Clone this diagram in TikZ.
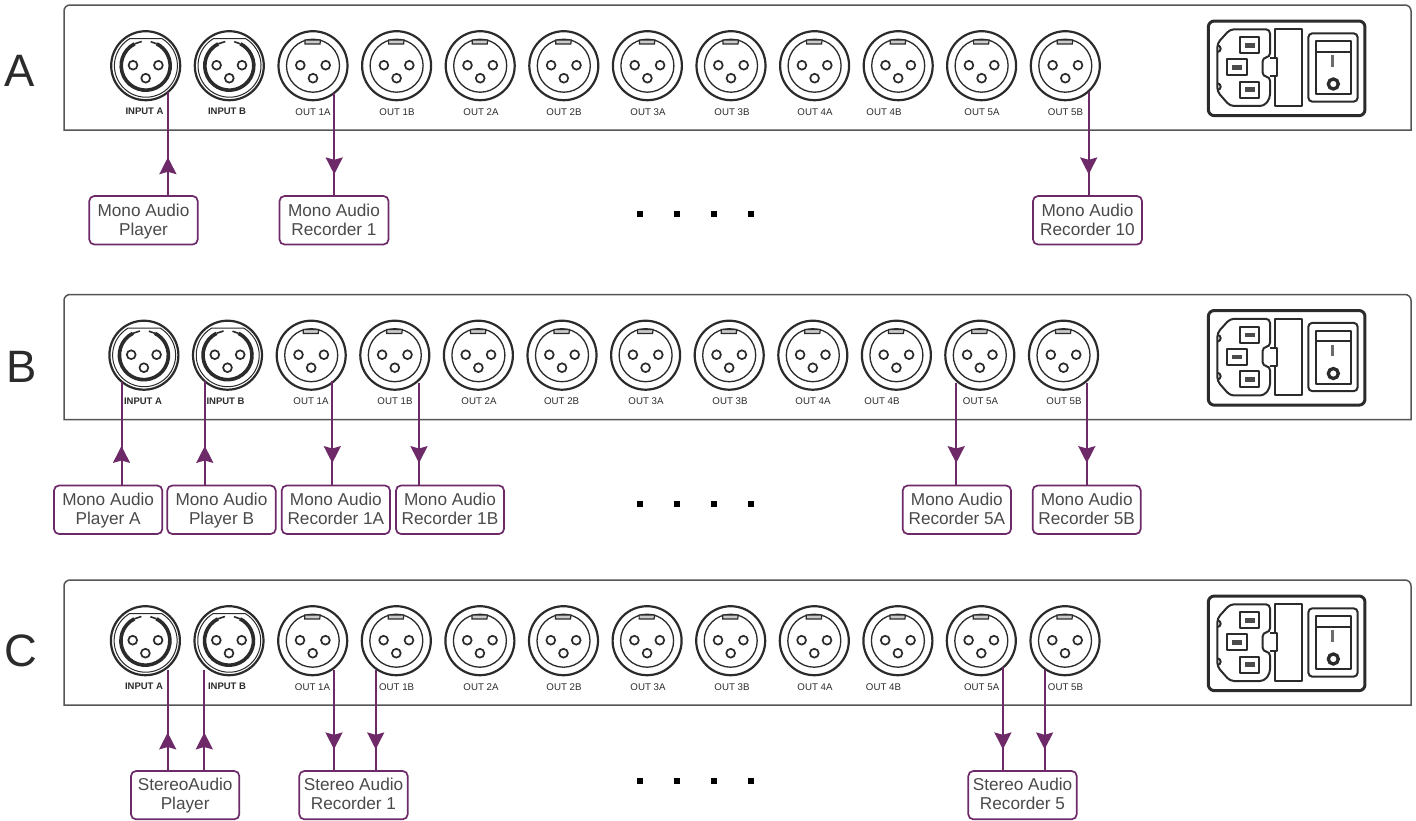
\documentclass[tikz,border=0pt]{standalone}
\usepackage{fontspec}
\setmainfont{Liberation Sans}
\newfontfamily\lightfont[FakeBold=-0.6]{Liberation Sans}
\usetikzlibrary{arrows.meta}
\definecolor{wirec}{HTML}{6E2A68}
\definecolor{inkc}{HTML}{2B2B2B}
\definecolor{textc}{HTML}{4A4A4A}
\tikzset{
 panelbox/.style={draw=inkc!80,line width=1.5pt},
 box/.style={draw=wirec,line width=1.7pt,rounded corners=5pt,fill=white,inner sep=0pt,align=center,text=textc,font=\fontsize{17.2}{19}\selectfont},
 wire/.style={draw=wirec,line width=2pt},
 port/.style={font=\fontsize{9.7}{10}\selectfont,text=inkc,inner sep=0pt},
 portb/.style={font=\fontsize{9.5}{10}\selectfont\bfseries,text=inkc,inner sep=0pt},
 letter/.style={font=\lightfont\fontsize{45.4}{46}\selectfont,text=inkc,inner sep=0pt},
 ink/.style={draw=inkc,line width=2pt,line join=round},
 dot/.style={fill=black,draw=none,minimum size=6pt,inner sep=0pt,rectangle},
}
\newcommand{\xlrin}[2]{%
 \begin{scope}[shift={(#1,#2)}]
  \draw[inkc,line width=2.2pt] (0,0) circle (34.5);
  \draw[inkc,line width=1pt] (-16,-27) arc[start angle=-121,end angle=-419,radius=31.5] -- cycle;
  \draw[inkc,line width=3.6pt] (-11,-21.9) arc[start angle=-116.7,end angle=-423.3,radius=24.5];
  \draw[inkc,line width=1.6pt] (-11,-21.9) -- (-4,-24.2) (5,-24) -- (11,-21.9);
  \draw[inkc,line width=1.7pt] (-12.7,-0.5) circle (4.4) (12.7,-0.5) circle (4.4) (0,12.5) circle (4.4);
 \end{scope}}
\newcommand{\xlrout}[2]{%
 \begin{scope}[shift={(#1,#2)}]
  \draw[inkc,line width=2.2pt] (0,0) circle (34.5);
  \draw[inkc,line width=1.3pt] (0,0) circle (26.5);
  \draw[inkc,line width=1.2pt,fill=inkc!25] (-8,-25.7) -- (7.5,-25.7) -- (7,-21.7) -- (-8,-21.7) -- cycle;
  \draw[inkc,line width=1.7pt] (-12.7,-0.5) circle (4.4) (12.7,-0.5) circle (4.4) (0,12.5) circle (4.4);
 \end{scope}}
\newcommand{\powerblock}{%
 \begin{scope}[shift={(1190,20)},x=0.3333pt,y=-0.3333pt]
  \draw[inkc,line width=3pt,rounded corners=6pt] (55,3) rectangle (525,287);
  \draw[ink,rounded corners=4pt] (120,28) -- (240,28) -- (240,112) -- (218,112) -- (218,170) -- (240,170) -- (240,235) -- (222,258) -- (120,258) -- (82,215) -- (82,70) -- cycle;
  \draw[ink] (82,76) arc[start angle=-90,end angle=90,radius=10];
  \draw[ink] (82,190) arc[start angle=-90,end angle=90,radius=10];
  \draw[ink] (255,115) -- (255,28) -- (335,28) -- (335,258) -- (255,258) -- (255,168);
  \draw[ink] (240,115) -- (262,115) -- (262,168) -- (240,168);
  \foreach \a/\b in {150/52,112/118,150/185}{
   \draw[ink] (\a,\b) rectangle ++(58,48);
   \fill[inkc!85] (\a+14,\b+17) rectangle ++(30,14);
  }
  \draw[ink,rounded corners=4pt] (355,40) rectangle (503,245);
  \draw[ink] (378,63) rectangle (482,222);
  \draw[ink] (378,95) -- (482,95);
  \fill[inkc!70] (423,105) rectangle (433,140);
  \draw[inkc,line width=3.3pt] (430,192) circle (15);
 \end{scope}}
% name, yoffset, letter, letter x, letter y, connector dx
\newcommand{\panel}[6]{%
 \begin{scope}[shift={(0,#2)}]
  \draw[panelbox] (64,130) {[rounded corners=6pt] -- (64,5) -- (1411,5) -- (1411,60)} -- (1411,130) -- cycle;
  \node[letter] (#1let) at (#4,#5) {#3};
  \xlrin{145.7+#6}{65.7}\xlrin{229.3+#6}{65.7}
  \foreach \x in {313,396.6,480.2,563.8,647.4,731,814.6,898.2,981.6,1065.3}{\xlrout{\x+#6}{65.7}}
  \powerblock
 \end{scope}}
% name, label y, input A x, input B x, list of out labels
\newcommand{\ports}[5]{%
  \node[portb] (#1ia) at (#3,#2) {INPUT A};
  \node[portb] (#1ib) at (#4,#2) {INPUT B};
  \foreach \n/\x/\t in {#5}{\node[port] (#1\n) at (\x,#2) {\t};}}
\newcommand{\wireup}[4]{%
 \coordinate (e) at (#2,#3);
 \draw[wire] (#1.north -| e) -- (e);
 \fill[wirec] (#2,#4) -- (#2+8.7,#4+17) -- (#2,#4+14.5) -- (#2-8.7,#4+17) -- cycle;}
\newcommand{\wiredown}[4]{%
 \coordinate (e) at (#2,#3);
 \draw[wire] (e) -- (#1.north -| e);
 \fill[wirec] (#2,#4) -- (#2+8.7,#4-17) -- (#2,#4-14.5) -- (#2-8.7,#4-17) -- cycle;}
\newcommand{\mybox}[7]{%
 \node[box,minimum width=#3pt-#2pt,minimum height=#5pt-#4pt] (#1) at ({(#2+#3)/2},{(#4+#5)/2}) {\rule{0pt}{16.3pt}#6\\#7\strut};}
\begin{document}
\begin{tikzpicture}[x=1pt,y=-1pt]
\useasboundingbox (0,0) rectangle (1416,820);
\fill[white] (0,0) rectangle (1416,820);
\panel{a}{0}{A}{20}{71}{0}
\panel{b}{289.5}{B}{22}{77.5}{-1.8}
\panel{c}{575}{C}{21}{76}{-0.3}
\ports{a}{111.7}{144.5}{227}{o1a/313/OUT 1A,o1b/397/OUT 1B,o2a/481/OUT 2A,o2b/564/OUT 2B,o3a/648/OUT 3A,o3b/732/OUT 3B,o4a/815/OUT 4A,o4b/884/OUT 4B,o5a/982/OUT 5A,o5b/1065.5/OUT 5B}
\ports{b}{401}{143}{225.5}{o1a/311/OUT 1A,o1b/395/OUT 1B,o2a/479/OUT 2A,o2b/561.7/OUT 2B,o3a/646/OUT 3A,o3b/730/OUT 3B,o4a/813/OUT 4A,o4b/882/OUT 4B,o5a/980.5/OUT 5A,o5b/1064/OUT 5B}
\ports{c}{686.7}{144}{227}{o1a/312.5/OUT 1A,o1b/396.7/OUT 1B,o2a/481/OUT 2A,o2b/564/OUT 2B,o3a/648/OUT 3A,o3b/732/OUT 3B,o4a/815/OUT 4A,o4b/883.5/OUT 4B,o5a/981.7/OUT 5A,o5b/1065.5/OUT 5B}
% row A
\mybox{a1}{89.3}{197.7}{196}{244.5}{Mono Audio}{Player}
\mybox{a2}{279.5}{388.5}{196}{244.5}{Mono Audio}{Recorder 1}
\mybox{a3}{1033}{1142}{196}{244.5}{Mono Audio}{Recorder 10}
\wireup{a1}{167.9}{92}{157.3}
\wiredown{a2}{334.2}{93}{174.3}
\wiredown{a3}{1088.7}{92}{174.3}
% row B
\mybox{b1}{54}{162.3}{485.5}{534}{Mono Audio}{Player A}
\mybox{b2}{167.3}{275.7}{485.5}{534}{Mono Audio}{Player B}
\mybox{b3}{281.7}{390}{485.5}{534}{Mono Audio}{Recorder 1A}
\mybox{b4}{396}{504}{485.5}{534}{Mono Audio}{Recorder 1B}
\mybox{b5}{902.7}{1011}{485.5}{534}{Mono Audio}{Recorder 5A}
\mybox{b6}{1032.7}{1140.7}{485.5}{534}{Mono Audio}{Recorder 5B}
\wireup{b1}{121.5}{381.7}{446}
\wireup{b2}{204.8}{381}{446}
\wiredown{b3}{332.3}{381}{463}
\wiredown{b4}{419}{383}{463}
\wiredown{b5}{956.2}{383}{463}
\wiredown{b6}{1086.8}{383}{463}
% row C
\mybox{c1}{131}{239.3}{771}{819.3}{StereoAudio}{Player}
\mybox{c2}{299.3}{407.7}{771}{819.3}{Stereo Audio}{Recorder 1}
\mybox{c3}{968.3}{1076.7}{771}{819.3}{Stereo Audio}{Recorder 5}
\wireup{c1}{167.7}{670}{732.5}
\wireup{c1}{204.3}{670}{732.5}
\wiredown{c2}{334}{670}{749.3}
\wiredown{c2}{375.7}{670}{749.3}
\wiredown{c3}{1002.9}{667}{749.3}
\wiredown{c3}{1044.6}{670}{749.3}
% dots
\foreach \r/\y in {a/214,b/504,c/781}{
 \foreach \i/\x in {1/640,2/677,3/714,4/751}{\node[dot] (\r d\i) at (\x,\y) {};}}
\end{tikzpicture}
\end{document}
